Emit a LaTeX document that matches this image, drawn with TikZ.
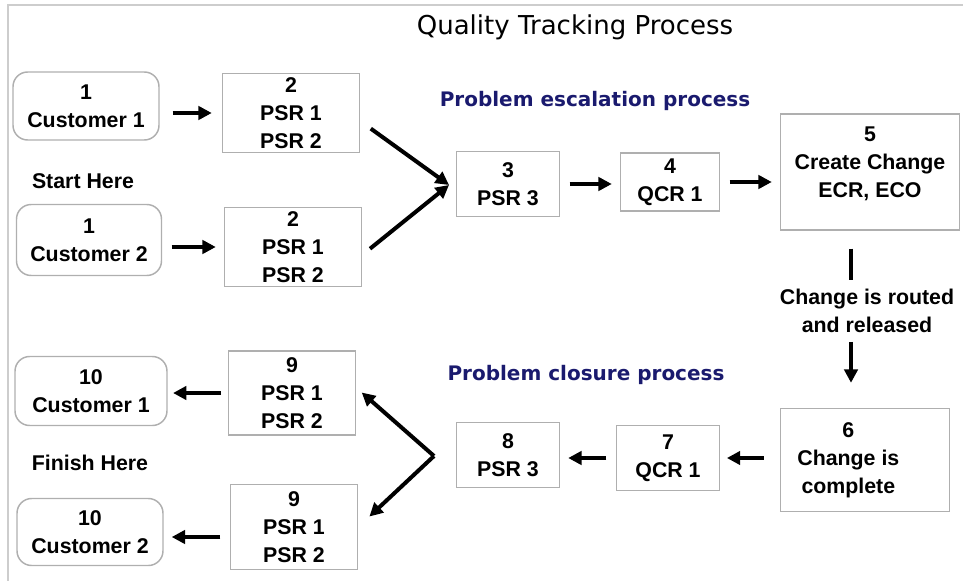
\documentclass[tikz,border=0pt]{standalone}
\usepackage{fontspec}
\setmainfont{Liberation Sans}
\newfontfamily\headfont{DejaVu Sans}
\usepackage{xcolor}
\usepackage{tikz}
\usetikzlibrary{arrows.meta}

\definecolor{framegray}{RGB}{205,205,205}
\definecolor{boxgray}{RGB}{175,175,175}
\definecolor{procblue}{RGB}{26,26,110}

\tikzset{
  boxtext/.style={font=\fontsize{16}{21}\selectfont\bfseries, align=center, inner sep=1pt},
  procbox/.style={boxtext, draw=boxgray, line width=1.1pt},
  custbox/.style={procbox, rounded corners=11pt},
  flow/.style={line width=3pt, -{Triangle[length=10pt,width=10pt]}, shorten <=7pt, shorten >=6pt},
  phase/.style={font=\headfont\fontsize{15}{18}\selectfont\bfseries, text=procblue, anchor=base, inner sep=0pt},
}

\begin{document}
\begin{tikzpicture}[x=0.75pt, y=-0.75pt]
\useasboundingbox (0,0) rectangle (963,581);
% frame and title
\draw [framegray, line width=1.2pt] (8,581) -- (8,5) -- (963,5);
\node (title) [anchor=base, inner sep=0pt, font=\headfont\fontsize{19.5}{23}\selectfont] at (575,35) {Quality Tracking Process};
% escalation side
\node (c1s) [custbox, minimum width=109.5pt, minimum height=51pt] at (86,106) {1\\Customer 1};
\node (c2s) [custbox, minimum width=108.75pt, minimum height=53.25pt] at (89,240) {1\\Customer 2};
\node (start) [boxtext, anchor=base] at (83,188) {Start Here};
\node (p2a) [procbox, minimum width=102.75pt, minimum height=59.25pt] at (291,113) {2\\PSR 1\\PSR 2};
\node (p2b) [procbox, minimum width=102.75pt, minimum height=59.25pt] at (293,247) {2\\PSR 1\\PSR 2};
\coordinate (merge) at (449,185);
\node (escal) [phase] at (595,107) {Problem escalation process};
\node (p3) [procbox, minimum width=77.25pt, minimum height=48.75pt] at (508,184) {3\\PSR 3};
\node (p4) [procbox, minimum width=74.25pt, minimum height=43.5pt] at (670,182) {4\\QCR 1};
\node (p5) [procbox, minimum width=134.25pt, minimum height=87pt] at (870,172) {\parbox[c][67.5pt][t]{130pt}{\centering 5\\Create Change\\ECR, ECO}};
% change routing
\coordinate (route) at (851,0);
\node (routed) [boxtext, inner sep=0pt] at (867,311) {Change is routed\\and released};
% closure side
\node (p6) [procbox, minimum width=126.75pt, minimum height=77.25pt] at (865,460) {\parbox{90pt}{\centering 6\\Change is\\complete}\kern25pt};
\node (p7) [procbox, minimum width=77.25pt, minimum height=48.75pt] at (668,458) {7\\QCR 1};
\node (p8) [procbox, minimum width=77.25pt, minimum height=48.75pt] at (508,455) {8\\PSR 3};
\node (closure) [phase] at (586,380) {Problem closure process};
\coordinate (split) at (434,456);
\node (p9a) [procbox, minimum width=95.25pt, minimum height=63pt] at (292,393) {9\\PSR 1\\PSR 2};
\node (p9b) [procbox, minimum width=95.25pt, minimum height=63.75pt] at (294,527) {9\\PSR 1\\PSR 2};
\node (c1f) [custbox, minimum width=114pt, minimum height=51.75pt] at (91,391) {10\\Customer 1};
\node (c2f) [custbox, minimum width=109.5pt, minimum height=50.25pt] at (90,532) {10\\Customer 2};
\node (finish) [boxtext, anchor=base] at (90,470) {Finish Here};
% arrows
\draw [flow, shorten <=9.75pt, shorten >=7.5pt] (c1s.east |- p2a) -- (p2a.west);
\draw [flow] (c2s.east |- p2b) -- (p2b.west);
\draw [flow, shorten <=9.75pt, shorten >=0pt] ([yshift=-6pt]p2a.east) -- (merge);
\draw [flow, shorten <=7.5pt, shorten >=0pt] ([yshift=-6pt]p2b.east) -- (merge);
\draw [flow] (p3.east) -- (p3.east -| p4.west);
\draw [flow] (p4.east) -- (p4.east -| p5.west);
\draw [line width=3pt, shorten <=13.5pt, shorten >=6.5pt] (p5.south -| route) -- (routed.north -| route);
\draw [flow, shorten <=6.5pt, shorten >=18.75pt] (routed.south -| route) -- (p6.north -| route);
\draw [flow, shorten <=12pt, shorten >=5pt] (p6.west |- p7) -- (p7.east);
\draw [flow] (p7.west) -- (p7.west -| p8.east);
\draw [flow, shorten <=0pt, shorten >=5.5pt] (split) -- ([yshift=4pt]p9a.east);
\draw [flow, shorten <=0pt, shorten >=11.5pt] (split) -- (p9b.east);
\draw [flow, shorten <=5pt, shorten >=4pt] (p9a.west) -- (p9a.west -| c1f.east);
\draw [flow] ([yshift=-7.5pt]p9b.west) -- ([yshift=-7.5pt]p9b.west -| c2f.east);
\end{tikzpicture}
\end{document}
